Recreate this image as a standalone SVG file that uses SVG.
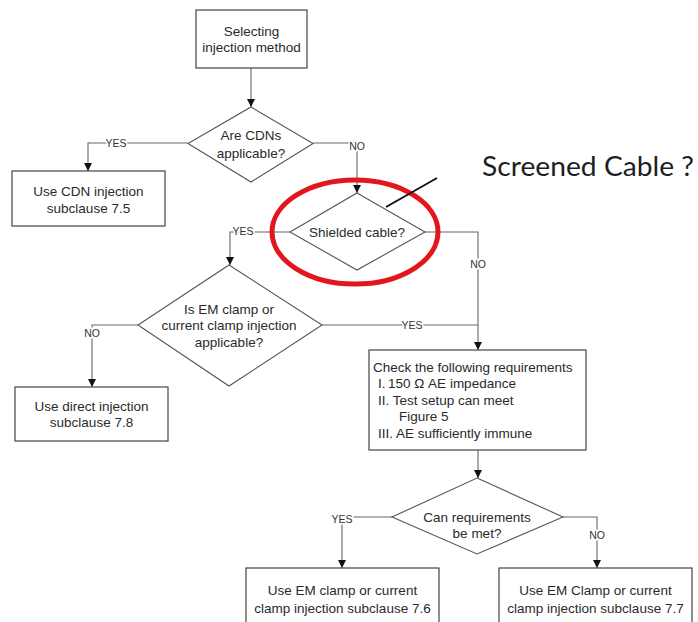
<svg xmlns="http://www.w3.org/2000/svg" width="698" height="622" viewBox="0 0 698 622">
<style>
.box{fill:#fff;stroke:#444;stroke-width:1.2}
.dia{fill:#fff;stroke:#555;stroke-width:1.1}
.t{font-family:"Liberation Sans",Arial,sans-serif;font-size:13.5px;fill:#2a2a2a;text-anchor:middle}
.tl{font-family:"Liberation Sans",Arial,sans-serif;font-size:13.5px;fill:#2a2a2a}
.lbl{font-family:"Liberation Sans",Arial,sans-serif;font-size:10.5px;fill:#333;text-anchor:middle;stroke:#fff;stroke-width:3;paint-order:stroke}
.c{fill:none;stroke:#666;stroke-width:1.1}
</style>
<defs>
<marker id="ah" viewBox="0 0 8 8" refX="8" refY="4" markerWidth="8" markerHeight="8" markerUnits="userSpaceOnUse" orient="auto">
<path d="M0,0 L8,4 L0,8 Z" fill="#111"/>
</marker>
</defs>
<rect width="698" height="622" fill="#fff"/>
<g id="connectors">
<path class="c" d="M251,68 V107" marker-end="url(#ah)"/>
<path class="c" d="M188,143 H88 V171" marker-end="url(#ah)"/>
<path class="c" d="M313,143 H357 V193" marker-end="url(#ah)"/>
<path class="c" d="M290,232 H230 V265" marker-end="url(#ah)"/>
<path class="c" d="M425,232 H478 V350" marker-end="url(#ah)"/>
<path class="c" d="M322,325 H478"/>
<path class="c" d="M138,325 H92 V387" marker-end="url(#ah)"/>
<path class="c" d="M478,450 V478" marker-end="url(#ah)"/>
<path class="c" d="M392,517 H342 V568" marker-end="url(#ah)"/>
<path class="c" d="M563,517 H597 V568" marker-end="url(#ah)"/>
<text class="lbl" x="116" y="147">YES</text>
<text class="lbl" x="357" y="150">NO</text>
<text class="lbl" x="243" y="235">YES</text>
<text class="lbl" x="478" y="268">NO</text>
<text class="lbl" x="412" y="329">YES</text>
<text class="lbl" x="92" y="337">NO</text>
<text class="lbl" x="342" y="523">YES</text>
<text class="lbl" x="597" y="539">NO</text>
</g>
<g id="start">
<rect class="box" x="196" y="10" width="111" height="58"/>
<text class="t" x="251.5" y="36">Selecting</text>
<text class="t" x="251.5" y="52">injection method</text>
</g>
<g id="cdn-question">
<polygon class="dia" points="251,107 313,143.5 251,182 188,143.5"/>
<text class="t" x="251" y="140">Are CDNs</text>
<text class="t" x="251" y="158">applicable?</text>
</g>
<g id="cdn-box">
<rect class="box" x="12" y="171" width="153" height="55"/>
<text class="t" x="88.5" y="196">Use CDN injection</text>
<text class="t" x="88.5" y="213">subclause 7.5</text>
</g>
<g id="shielded-question">
<polygon class="dia" points="357,193 425,232 357,270 290,232"/>
<text class="t" x="357" y="237">Shielded cable?</text>
</g>
<g id="em-question">
<polygon class="dia" points="229,265 322,325 229,386 138,325"/>
<text class="t" x="229" y="314">Is EM clamp or</text>
<text class="t" x="229" y="330">current clamp injection</text>
<text class="t" x="229" y="347">applicable?</text>
</g>
<g id="direct-box">
<rect class="box" x="15" y="387" width="153" height="54"/>
<text class="t" x="91.5" y="411">Use direct injection</text>
<text class="t" x="91.5" y="427">subclause 7.8</text>
</g>
<g id="check-box">
<rect class="box" x="369" y="350" width="217" height="100"/>
<text class="tl" x="373" y="372">Check the following requirements</text>
<text class="tl" x="378" y="388">I.  <tspan x="388">150 Ω AE impedance</tspan></text>
<text class="tl" x="378" y="405">II. Test setup can meet</text>
<text class="tl" x="399" y="421">Figure 5</text>
<text class="tl" x="378" y="438">III. AE sufficiently immune</text>
</g>
<g id="can-question">
<polygon class="dia" points="477,478 563,517 477,554 392,517"/>
<text class="t" x="477" y="522">Can requirements</text>
<text class="t" x="477" y="538">be met?</text>
</g>
<g id="box-76">
<rect class="box" x="246" y="568" width="193" height="70"/>
<text class="t" x="342.5" y="595">Use EM clamp or current</text>
<text class="t" x="342.5" y="613">clamp injection subclause 7.6</text>
</g>
<g id="box-77">
<rect class="box" x="499" y="568" width="193" height="70"/>
<text class="t" x="595.5" y="595">Use EM Clamp or current</text>
<text class="t" x="595.5" y="613">clamp injection subclause 7.7</text>
</g>
<g id="annotation">
<ellipse cx="355" cy="232" rx="83" ry="52" fill="none" stroke="#e3161d" stroke-width="5"/>
<line x1="386" y1="207" x2="437" y2="178" stroke="#111" stroke-width="2"/>
<text x="482" y="176" font-family="Lato,'Open Sans',sans-serif" font-size="27" fill="#1e1e1e" textLength="212" lengthAdjust="spacingAndGlyphs">Screened Cable ?</text>
</g>
</svg>
